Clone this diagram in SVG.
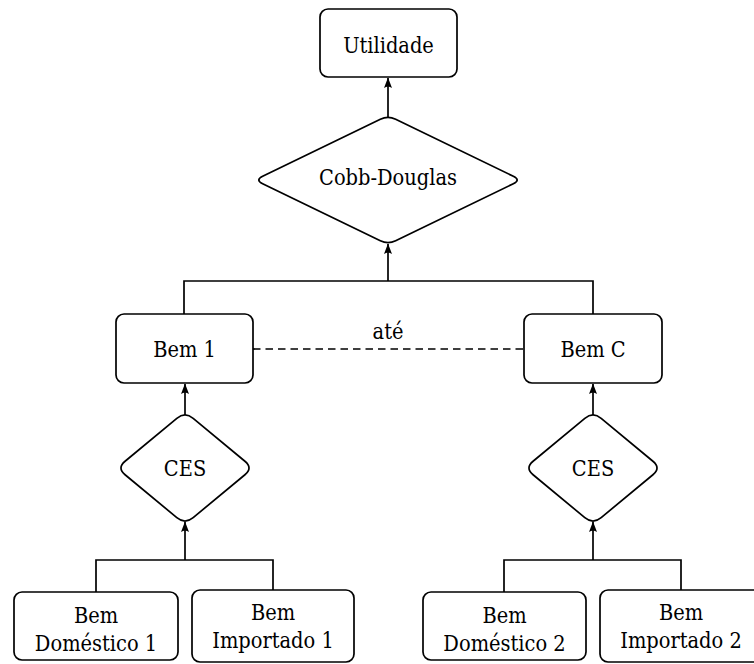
<svg xmlns="http://www.w3.org/2000/svg" width="754" height="664" viewBox="0 0 754 664">
<style>
.box{fill:#fff;stroke:#000;stroke-width:1.7}
.dia{fill:#fff;stroke:#000;stroke-width:1.7;stroke-linejoin:round}
.t{font-family:'DejaVu Serif Condensed','DejaVu Serif',serif;font-stretch:condensed;font-size:21.6px;fill:#000;text-anchor:middle}
.c{fill:none;stroke:#000;stroke-width:1.7}
.d{fill:none;stroke:#000;stroke-width:1.7;stroke-dasharray:7.5,5}
</style>
<defs>
<marker id="ah" viewBox="-11 -5 12 10" refX="0" refY="0" markerWidth="12" markerHeight="10" markerUnits="userSpaceOnUse" orient="auto">
<path d="M0.5,0 L-10,-4 Q-7,0 -10,4 Z" fill="#000"/>
</marker>
<path id="ces" d="M8.17,-49.63 L59.93,-6.77 Q68.1,0 59.93,6.77 L8.17,49.63 Q0,56.4 -8.17,49.63 L-59.93,6.77 Q-68.1,0 -59.93,-6.77 L-8.17,-49.63 Q0,-56.4 8.17,-49.63 Z"/>
</defs>
<g id="connectors">
<line class="c" x1="388" y1="117" x2="388" y2="78" marker-end="url(#ah)"/>
<line class="c" x1="388" y1="281" x2="388" y2="244" marker-end="url(#ah)"/>
<polyline class="c" points="184,314 184,281 593,281 593,314"/>
<line class="d" x1="253" y1="349" x2="524" y2="349"/>
<line class="c" x1="185" y1="415" x2="185" y2="384" marker-end="url(#ah)"/>
<line class="c" x1="593" y1="415" x2="593" y2="384" marker-end="url(#ah)"/>
<line class="c" x1="185" y1="560" x2="185" y2="522" marker-end="url(#ah)"/>
<line class="c" x1="593" y1="560" x2="593" y2="522" marker-end="url(#ah)"/>
<polyline class="c" points="96,592 96,560 273,560 273,590"/>
<polyline class="c" points="504,592 504,560 681,560 681,590"/>
<text class="t" x="388" y="339">até</text>
</g>
<g id="utilidade">
<rect class="box" x="320" y="9" width="137" height="68" rx="8"/>
<text class="t" x="388.5" y="53">Utilidade</text>
</g>
<g id="cobb-douglas">
<path class="dia" d="M395.65,119.21 L513.35,176.29 Q521,180 513.35,183.71 L395.65,240.79 Q388,244.5 380.35,240.79 L262.65,183.71 Q255,180 262.65,176.29 L380.35,119.21 Q388,115.5 395.65,119.21 Z"/>
<text class="t" x="388" y="185">Cobb-Douglas</text>
</g>
<g id="bem1">
<rect class="box" x="116" y="314" width="137" height="69" rx="8"/>
<text class="t" x="184.5" y="357">Bem 1</text>
</g>
<g id="bemC">
<rect class="box" x="524" y="314" width="138" height="69" rx="8"/>
<text class="t" x="593" y="357">Bem C</text>
</g>
<g id="ces1" transform="translate(185,468)">
<use href="#ces" class="dia"/>
<text class="t" x="0" y="8">CES</text>
</g>
<g id="ces2" transform="translate(593,468)">
<use href="#ces" class="dia"/>
<text class="t" x="0" y="8">CES</text>
</g>
<g id="dom1">
<rect class="box" x="14" y="592" width="164" height="68" rx="8"/>
<text class="t" x="96" y="623">Bem</text>
<text class="t" x="96" y="651">Doméstico 1</text>
</g>
<g id="imp1">
<rect class="box" x="192" y="590" width="162" height="72" rx="8"/>
<text class="t" x="273" y="620">Bem</text>
<text class="t" x="273" y="648">Importado 1</text>
</g>
<g id="dom2">
<rect class="box" x="423" y="592" width="163" height="68" rx="8"/>
<text class="t" x="504.5" y="623">Bem</text>
<text class="t" x="504.5" y="651">Doméstico 2</text>
</g>
<g id="imp2">
<rect class="box" x="600" y="590" width="162" height="72" rx="8"/>
<text class="t" x="681" y="620">Bem</text>
<text class="t" x="681" y="648">Importado 2</text>
</g>
</svg>
